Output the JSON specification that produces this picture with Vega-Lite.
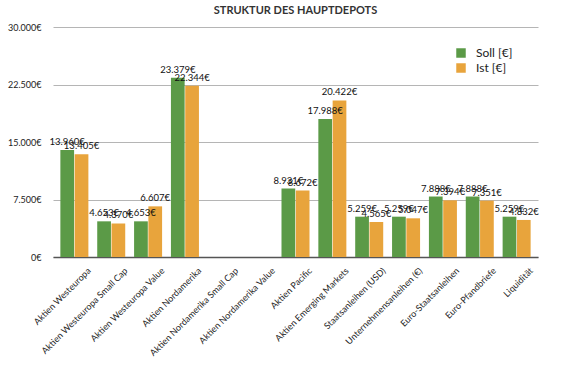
{
  "$schema": "https://vega.github.io/schema/vega-lite/v6.json",
  "width": 485,
  "height": 230,
  "autosize": {"type": "none"},
  "padding": {"left": 53, "top": 27, "right": 23, "bottom": 110},
  "title": {"text": "STRUKTUR DES HAUPTDEPOTS", "font": "Lato", "fontSize": 11, "fontWeight": "bold", "color": "#333333", "offset": 7},
  "config": {
    "locale": {"number": {"decimal": ",", "thousands": ".", "grouping": [3], "currency": ["", "€"]}},
    "view": {"stroke": null},
    "font": "Lato"
  },
  "data": {"values": [
    {"Kategorie": "Aktien Westeuropa", "Serie": "Soll [€]", "Wert": 13960},
    {"Kategorie": "Aktien Westeuropa", "Serie": "Ist [€]", "Wert": 13405},
    {"Kategorie": "Aktien Westeuropa Small Cap", "Serie": "Soll [€]", "Wert": 4653},
    {"Kategorie": "Aktien Westeuropa Small Cap", "Serie": "Ist [€]", "Wert": 4370},
    {"Kategorie": "Aktien Westeuropa Value", "Serie": "Soll [€]", "Wert": 4653},
    {"Kategorie": "Aktien Westeuropa Value", "Serie": "Ist [€]", "Wert": 6607},
    {"Kategorie": "Aktien Nordamerika", "Serie": "Soll [€]", "Wert": 23379},
    {"Kategorie": "Aktien Nordamerika", "Serie": "Ist [€]", "Wert": 22344},
    {"Kategorie": "Aktien Nordamerika Small Cap", "Serie": "Soll [€]", "Wert": 0},
    {"Kategorie": "Aktien Nordamerika Small Cap", "Serie": "Ist [€]", "Wert": 0},
    {"Kategorie": "Aktien Nordamerika Value", "Serie": "Soll [€]", "Wert": 0},
    {"Kategorie": "Aktien Nordamerika Value", "Serie": "Ist [€]", "Wert": 0},
    {"Kategorie": "Aktien Pacific", "Serie": "Soll [€]", "Wert": 8931},
    {"Kategorie": "Aktien Pacific", "Serie": "Ist [€]", "Wert": 8672},
    {"Kategorie": "Aktien Emerging Markets", "Serie": "Soll [€]", "Wert": 17988},
    {"Kategorie": "Aktien Emerging Markets", "Serie": "Ist [€]", "Wert": 20422},
    {"Kategorie": "Staatsanleihen (USD)", "Serie": "Soll [€]", "Wert": 5259},
    {"Kategorie": "Staatsanleihen (USD)", "Serie": "Ist [€]", "Wert": 4565},
    {"Kategorie": "Unternehmensanleihen (€)", "Serie": "Soll [€]", "Wert": 5259},
    {"Kategorie": "Unternehmensanleihen (€)", "Serie": "Ist [€]", "Wert": 5047},
    {"Kategorie": "Euro-Staatsanleihen", "Serie": "Soll [€]", "Wert": 7888},
    {"Kategorie": "Euro-Staatsanleihen", "Serie": "Ist [€]", "Wert": 7394},
    {"Kategorie": "Euro-Pfandbriefe", "Serie": "Soll [€]", "Wert": 7888},
    {"Kategorie": "Euro-Pfandbriefe", "Serie": "Ist [€]", "Wert": 7351},
    {"Kategorie": "Liquidität", "Serie": "Soll [€]", "Wert": 5259},
    {"Kategorie": "Liquidität", "Serie": "Ist [€]", "Wert": 4832}
  ]},
  "encoding": {
    "x": {
      "field": "Kategorie", "type": "nominal", "sort": null,
      "scale": {"paddingInner": 0.24, "paddingOuter": 0.2},
      "axis": {
        "title": null, "labelAngle": -45, "labelAlign": "right", "labelBaseline": "top",
        "labelOffset": 12, "labelPadding": 9, "labelFontSize": 9, "labelColor": "#222222",
        "ticks": false, "domainColor": "#555555", "domainWidth": 1.5, "labelLimit": 200
      }
    },
    "xOffset": {"field": "Serie", "type": "nominal", "sort": ["Soll [€]", "Ist [€]"], "scale": {"paddingInner": 0.04}},
    "y": {
      "field": "Wert", "type": "quantitative",
      "scale": {"domain": [0, 30000]},
      "axis": {
        "title": null, "values": [0, 7500, 15000, 22500, 30000], "format": "$,.0f",
        "domain": false, "ticks": false, "labelPadding": 12, "labelFontSize": 9, "labelColor": "#222222",
        "gridColor": "#b5b5b5", "gridWidth": 1
      }
    }
  },
  "layer": [
    {
      "mark": {"type": "bar"},
      "encoding": {
        "color": {
          "field": "Serie", "type": "nominal", "sort": ["Soll [€]", "Ist [€]"],
          "scale": {"domain": ["Soll [€]", "Ist [€]"], "range": ["#5b9a47", "#e8a43c"]},
          "legend": {
            "title": null, "orient": "none", "legendX": 402, "legendY": 20,
            "symbolType": "square", "symbolSize": 90, "symbolStrokeWidth": 0,
            "labelFontSize": 12, "labelColor": "#222222", "rowPadding": 3, "labelOffset": 9
          }
        }
      }
    },
    {
      "transform": [{"filter": "datum.Wert > 0"}],
      "mark": {"type": "text", "baseline": "bottom", "dy": -3, "fontSize": 9.5, "color": "#111111"},
      "encoding": {
        "text": {"field": "Wert", "type": "quantitative", "format": "$,.0f"}
      }
    }
  ]
}
